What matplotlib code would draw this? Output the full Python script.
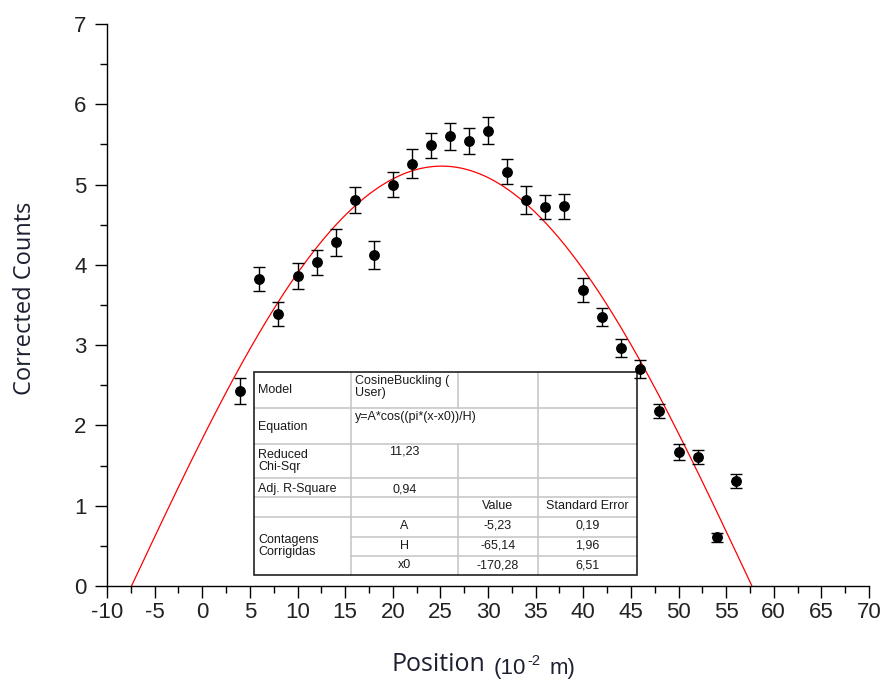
import numpy as np
import matplotlib
matplotlib.use("Agg")
import matplotlib.pyplot as plt
from matplotlib.transforms import Affine2D
from matplotlib.lines import Line2D
from matplotlib.patches import Rectangle

# ---------------- data ----------------
position = [4, 6, 8, 10, 12, 14, 16, 18, 20, 22, 24, 26, 28, 30, 32, 34,
            36, 38, 40, 42, 44, 46, 48, 50, 52, 54, 56]
counts = [2.43, 3.82, 3.39, 3.86, 4.03, 4.28, 4.81, 4.12, 5.00, 5.26, 5.49,
          5.60, 5.54, 5.67, 5.16, 4.81, 4.72, 4.73, 3.69, 3.35, 2.96, 2.70,
          2.18, 1.67, 1.61, 0.61, 1.31]
errors = [0.16, 0.15, 0.15, 0.165, 0.155, 0.165, 0.165, 0.175, 0.157, 0.178,
          0.158, 0.166, 0.16, 0.168, 0.158, 0.174, 0.147, 0.158, 0.147, 0.115,
          0.112, 0.11, 0.089, 0.095, 0.087, 0.056, 0.085]

# fit parameters (CosineBuckling)
A_fit = -5.23
H_fit = -65.14
x0_fit = -170.28

x_ticks = list(range(-10, 71, 5))
y_ticks = list(range(0, 8))

table_rows = [
    ["Model", "CosineBuckling (\nUser)", "", ""],
    ["Equation", "y=A*cos((pi*(x-x0))/H)", "", ""],
    ["Reduced\nChi-Sqr", "11,23", "", ""],
    ["Adj. R-Square", "0,94", "", ""],
    ["", "", "Value", "Standard Error"],
    ["Contagens\nCorrigidas", "A", "-5,23", "0,19"],
    ["", "H", "-65,14", "1,96"],
    ["", "x0", "-170,28", "6,51"],
]

# ---------------- figure ----------------
W, Hpx = 884, 681
fig = plt.figure(figsize=(W / 100, Hpx / 100), dpi=100)
ax = fig.add_axes([107 / W, 1 - 586 / Hpx, (869 - 107) / W, (586 - 24) / Hpx])

# fit curve (only the part above zero, as in the reference)
z_lo = x0_fit + H_fit * (-2.5)
z_hi = x0_fit + H_fit * (-3.5)
xf = np.linspace(z_lo, z_hi, 800)
yf = A_fit * np.cos(np.pi * (xf - x0_fit) / H_fit)
ax.plot(xf, yf, color="red", lw=0.9, zorder=2)

ax.errorbar(position, counts, yerr=errors, fmt="o", color="black",
            ms=6.8, elinewidth=1.0, capsize=4.3, capthick=1.0, zorder=4)

ax.set_xlim(-10, 70)
ax.set_ylim(0, 7)
ax.set_xticks(x_ticks)
ax.set_xticklabels([str(t) for t in x_ticks], fontsize=16,
                   fontfamily="Liberation Sans", color="#222222")
ax.set_yticks(y_ticks)
ax.set_yticklabels([str(t) for t in y_ticks], fontsize=16,
                   fontfamily="Liberation Sans", color="#222222")
ax.set_xticks(np.arange(-7.5, 70, 5), minor=True)
ax.set_yticks(np.arange(0.5, 7, 1), minor=True)
for s in ["top", "right"]:
    ax.spines[s].set_visible(False)
for s in ["left", "bottom"]:
    ax.spines[s].set_linewidth(1.0)
ax.tick_params(which="major", direction="out", length=8.6, width=1.0)
ax.tick_params(which="minor", direction="out", length=4.7, width=1.0)
ax.tick_params(axis="x", which="major", pad=3.0)
ax.tick_params(axis="y", which="major", pad=6.0)

# labels
fig.text(25 / W, 1 - 298 / Hpx, "Corrected Counts", rotation=90,
         ha="center", va="center", fontsize=17, family="Open Sans",
         color="#1c2030")
fig.text(391 / W, 1 - 671 / Hpx, "Position", ha="left", va="baseline",
         fontsize=18, family="Open Sans", color="#1c2030")
fig.text(494 / W, 1 - 674 / Hpx, "(10", ha="left", va="baseline",
         fontsize=16, family="Liberation Sans", color="#1c2030")
fig.text(527 / W, 1 - 665 / Hpx, "-2", ha="left", va="baseline",
         fontsize=10.5, family="Liberation Sans", color="#1c2030")
fig.text(550 / W, 1 - 674 / Hpx, "m)", ha="left", va="baseline",
         fontsize=16, family="Liberation Sans", color="#1c2030")

# ---------------- stats table (pixel layout) ----------------
T = Affine2D().scale(1 / W, -1 / Hpx).translate(0, 1) + fig.transFigure
cols = [254, 351, 457.7, 538.3, 636.7]
rows = [372.3, 408.3, 444, 478.3, 497.3, 517.3, 537, 556, 575]

ax.add_patch(Rectangle((cols[0], rows[0]), cols[-1] - cols[0],
                       rows[-1] - rows[0], transform=T, facecolor="white",
                       edgecolor="none", zorder=3, clip_on=False))
grid_c = "#c4c4c4"
for i, yy in enumerate(rows[1:-1], start=1):
    xs = cols[1] if i in (6, 7) else cols[0]
    ax.add_line(Line2D([xs, cols[-1]], [yy, yy], transform=T, color=grid_c,
                       lw=1.1, zorder=3.1, clip_on=False))
ax.add_line(Line2D([cols[1], cols[1]], [rows[0], rows[-1]], transform=T,
                   color=grid_c, lw=1.1, zorder=3.1, clip_on=False))
ax.add_line(Line2D([cols[2], cols[2]], [rows[0], rows[1]], transform=T,
                   color=grid_c, lw=1.1, zorder=3.1, clip_on=False))
ax.add_line(Line2D([cols[2], cols[2]], [rows[2], rows[-1]], transform=T,
                   color=grid_c, lw=1.1, zorder=3.1, clip_on=False))
ax.add_line(Line2D([cols[3], cols[3]], [rows[0], rows[-1]], transform=T,
                   color=grid_c, lw=1.1, zorder=3.1, clip_on=False))
ax.add_patch(Rectangle((cols[0], rows[0]), cols[-1] - cols[0],
                       rows[-1] - rows[0], transform=T, facecolor="none",
                       edgecolor="#222222", lw=1.2, zorder=3.2, clip_on=False))

tkw = dict(transform=T, fontsize=9, family="Liberation Sans",
           color="#1a1a1a", zorder=3.3, clip_on=False)
ax.text(258, 390, table_rows[0][0], ha="left", va="center", **tkw)
ax.text(258, 427, table_rows[1][0], ha="left", va="center", **tkw)
ax.text(258, 461, table_rows[2][0], ha="left", va="center", linespacing=1.05, **tkw)
ax.text(258, 489, table_rows[3][0], ha="left", va="center", **tkw)
ax.text(258, 546, table_rows[5][0], ha="left", va="center", linespacing=1.05, **tkw)
ax.text(355, 375, table_rows[0][1], ha="left", va="top", linespacing=1.0, **tkw)
ax.text(355, 411, table_rows[1][1], ha="left", va="top", **tkw)
cx = [(cols[i] + cols[i + 1]) / 2 for i in range(4)]
ax.text(cx[1], 446, table_rows[2][1], ha="center", va="top", **tkw)
ax.text(cx[1], 489, table_rows[3][1], ha="center", va="center", **tkw)
ax.text(cx[2], 506, table_rows[4][2], ha="center", va="center", **tkw)
ax.text(cx[3], 506, table_rows[4][3], ha="center", va="center", **tkw)
for r, yy in zip(table_rows[5:], [526, 546, 565]):
    for c in (1, 2, 3):
        ax.text(cx[c], yy, r[c], ha="center", va="center", **tkw)

fig.savefig("out.png", dpi=100)
